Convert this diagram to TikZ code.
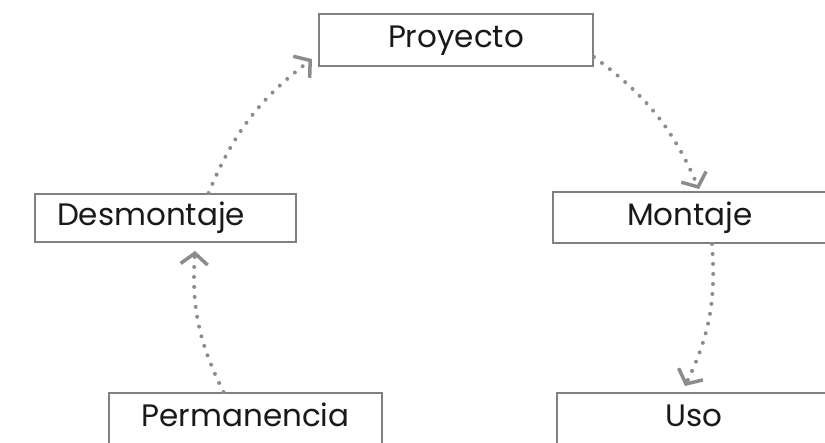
\documentclass[tikz,border=0pt]{standalone}
\usepackage{fontspec}
\setmainfont{Poppins}
\usepackage{tikz}
\usetikzlibrary{arrows.meta}
\definecolor{boxColor}{RGB}{128,128,128}
\definecolor{dotColor}{RGB}{140,140,140}
\definecolor{labelColor}{RGB}{25,25,25}
\tikzstyle{cycleFrame} = [x = 1pt, y = -1pt]
\tikzstyle{stageBox} = [draw=boxColor, line width=2pt, inner sep=0pt, minimum width=274pt, minimum height=51pt, text height=22pt, text depth=6pt, text=labelColor, font=\fontsize{31}{36}\selectfont]
\tikzstyle{cycleArrow} = [draw=dotColor, line width=4pt, line cap=round, dash pattern=on 0pt off 10pt, bend left=15, -{Straight Barb[length=11pt, width=27pt, line width=3.5pt]}]

\begin{document}
\begin{tikzpicture}[cycleFrame]
        \useasboundingbox (0,0) rectangle (825,443);
        \clip (0,0) rectangle (825,443);

        \node [stageBox, minimum height=52pt] (proyecto) at (456,40) {Proyecto};
        \node [stageBox] (montaje) at (690,217.5) {Montaje};
        \node [stageBox, minimum width=261pt, minimum height=48pt, text width=217pt, inner xsep=22pt, align=left] (desmontaje) at (165.5,218) {Desmontaje};
        \node [stageBox, minimum width=273pt] (permanencia) at (245.5,418.5) {Permanencia};
        \node [stageBox] (uso) at (694,418.5) {Uso};

        \draw [cycleArrow] ([yshift=10pt]proyecto.south east) to ([xshift=9pt, yshift=2pt]montaje.north);
        \draw [cycleArrow] ([xshift=22pt]montaje.south) to ([xshift=-9pt, yshift=6pt]uso.north);
        \draw [cycleArrow] ([xshift=-22pt]permanencia.north) to ([xshift=29.5pt, yshift=-8pt]desmontaje.south);
        \draw [cycleArrow] ([xshift=43pt]desmontaje.north) to ([xshift=-6pt, yshift=8pt]proyecto.south west);
      \end{tikzpicture}
\end{document}
